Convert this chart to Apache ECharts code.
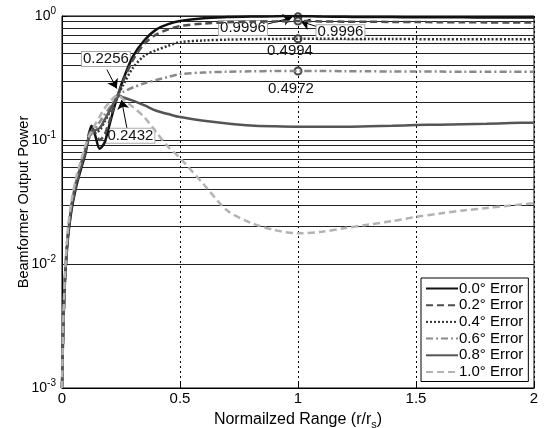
<!DOCTYPE html>
<html>
<head>
<meta charset="utf-8">
<script src="https://cdn.jsdelivr.net/npm/echarts@6/dist/echarts.min.js"></script>
<style>html,body{margin:0;padding:0;background:#fff}#c{width:545px;height:428px}</style>
</head>
<body>
<div id="c"></div>
<script>
// x positions (normalized range r/r_s)
const xRange = [0, 0.005, 0.013, 0.025, 0.04, 0.06, 0.08, 0.1, 0.115, 0.125, 0.14, 0.16, 0.18, 0.2, 0.22, 0.237, 0.26, 0.3, 0.35, 0.4, 0.45, 0.5, 0.6, 0.7, 0.8, 0.9, 1.0, 1.1, 1.2, 1.3, 1.4, 1.5, 1.6, 1.7, 1.8, 1.9, 2.0];
const seriesNames = ['0.0° Error', '0.2° Error', '0.4° Error', '0.6° Error', '0.8° Error', '1.0° Error'];
const err00 = [0.001, 0.0028, 0.0075, 0.016, 0.027, 0.042, 0.058, 0.079, 0.112, 0.13, 0.11, 0.085, 0.095, 0.13, 0.18, 0.23, 0.31, 0.47, 0.64, 0.78, 0.86, 0.91, 0.96, 0.98, 0.99, 0.995, 0.9996, 0.99, 0.985, 0.98, 0.98, 0.978, 0.976, 0.975, 0.974, 0.973, 0.972];
const err02 = [0.001, 0.0028, 0.0077, 0.0165, 0.028, 0.043, 0.06, 0.082, 0.115, 0.125, 0.115, 0.1, 0.11, 0.14, 0.185, 0.23, 0.3, 0.44, 0.6, 0.71, 0.78, 0.83, 0.87, 0.89, 0.9, 0.905, 0.91, 0.905, 0.9, 0.9, 0.895, 0.895, 0.89, 0.89, 0.888, 0.886, 0.885];
const err04 = [0.001, 0.0029, 0.008, 0.017, 0.029, 0.045, 0.062, 0.086, 0.105, 0.112, 0.115, 0.12, 0.14, 0.165, 0.2, 0.23, 0.28, 0.38, 0.48, 0.53, 0.575, 0.615, 0.635, 0.645, 0.65, 0.653, 0.655, 0.655, 0.654, 0.653, 0.652, 0.651, 0.65, 0.65, 0.649, 0.648, 0.648];
const err06 = [0.001, 0.003, 0.0083, 0.018, 0.03, 0.047, 0.064, 0.089, 0.105, 0.113, 0.123, 0.14, 0.16, 0.18, 0.205, 0.23, 0.245, 0.265, 0.287, 0.305, 0.322, 0.34, 0.35, 0.355, 0.358, 0.36, 0.36, 0.36, 0.359, 0.358, 0.357, 0.356, 0.356, 0.355, 0.355, 0.355, 0.355];
const err08 = [0.001, 0.0029, 0.008, 0.017, 0.029, 0.045, 0.062, 0.083, 0.105, 0.118, 0.12, 0.125, 0.145, 0.17, 0.2, 0.23, 0.22, 0.208, 0.19, 0.172, 0.162, 0.153, 0.143, 0.136, 0.131, 0.129, 0.128, 0.128, 0.128, 0.129, 0.13, 0.132, 0.133, 0.134, 0.135, 0.137, 0.138];
const err10 = [0.001, 0.0032, 0.0086, 0.019, 0.032, 0.05, 0.068, 0.091, 0.108, 0.117, 0.133, 0.155, 0.18, 0.2, 0.22, 0.23, 0.212, 0.185, 0.152, 0.115, 0.088, 0.0716, 0.044, 0.027, 0.0215, 0.0188, 0.0177, 0.0182, 0.0195, 0.0208, 0.0222, 0.024, 0.0255, 0.027, 0.0283, 0.0296, 0.031];
const xTicks = [0, 0.5, 1, 1.5, 2];
const yDecades = [0.001, 0.01, 0.1, 1];
// annotation texts / anchor points (data coordinates)
const annoTexts = ['0.2256', '0.2432', '0.9996', '0.9996', '0.4994', '0.4972'];
const annoTextAt = [[0.186, 0.45], [0.29, 0.108], [0.767, 0.8], [1.18, 0.74], [0.966, 0.522], [0.97, 0.257]];
const arrowFrom = [[0.19, 0.37], [0.275, 0.125], [0.86, 0.85], [1.08, 0.82]];
const arrowTo = [[0.232, 0.26], [0.252, 0.21], [0.975, 0.975], [1.012, 0.905]];
const circleAt = [[1, 0.985], [1, 0.91], [1, 0.655], [1, 0.36]];

const allValues = [err00, err02, err04, err06, err08, err10];
const colors = ['#111111', '#4d4d4d', '#333333', '#8a8a8a', '#555555', '#b3b3b3'];
const dashes = ['solid', [7, 4], [2, 2], [7, 3, 2, 3], 'solid', [7, 4]];

// minor horizontal grid lines at k*10^n
const gridVals = [];
for (let d = 0; d < yDecades.length - 1; d++) {
  for (let k = 2; k <= 9; k++) gridVals.push(+(k * yDecades[d]).toPrecision(3));
}

const FONT = 'Liberation Sans, Arial, sans-serif';
const chart = echarts.init(document.getElementById('c'));
const series = allValues.map((vals, i) => ({
  name: seriesNames[i],
  type: 'line',
  data: xRange.map((x, j) => [x, vals[j]]),
  symbol: 'none',
  smooth: 0.3,
  lineStyle: { color: colors[i], width: 2.5, type: dashes[i] },
  itemStyle: { color: colors[i] },
  z: 5 + i
}));

series.unshift({
  name: 'grid',
  type: 'line',
  data: [],
  silent: true,
  z: 1,
  markLine: {
    silent: true, symbol: 'none', animation: false,
    label: { show: false },
    lineStyle: { color: '#222', width: 1, type: 'solid' },
    data: gridVals.map(v => ({ yAxis: v }))
  }
});

series.push({
  name: 'anno',
  type: 'line',
  data: [],
  silent: true,
  z: 20,
  markLine: {
    silent: true, animation: false,
    symbol: ['none', 'arrow'], symbolSize: 9,
    label: { show: false },
    lineStyle: { color: '#000', width: 1, type: 'solid' },
    data: arrowFrom.map((p, i) => [{ coord: p }, { coord: arrowTo[i] }])
  },
  markPoint: {
    animation: false,
    data: annoTexts.map((t, i) => ({
      coord: annoTextAt[i], symbol: 'rect', symbolSize: 0,
      label: {
        show: true, position: 'inside', formatter: t, color: '#111',
        fontSize: 15, fontFamily: FONT, lineHeight: 14,
        backgroundColor: (i >= 4) ? 'transparent' : '#fff',
        borderColor: (i >= 4) ? 'transparent' : '#aaa', borderWidth: 1, padding: [0, 1]
      }
    })).concat(circleAt.map(p => ({
      coord: p, symbol: 'circle', symbolSize: 7,
      itemStyle: { color: '#fff', borderColor: '#444', borderWidth: 2 },
      label: { show: false }
    })))
  }
});

chart.setOption({
  animation: false,
  backgroundColor: '#fff',
  textStyle: { fontFamily: FONT },
  grid: { left: 62, right: 11, top: 16, bottom: 40, show: true, borderColor: '#000', borderWidth: 1, backgroundColor: 'transparent', outerBoundsMode: 'none', containLabel: false },
  legend: {
    data: seriesNames,
    orient: 'vertical', left: 421, top: 278,
    backgroundColor: '#fff', borderColor: '#000', borderWidth: 1,
    padding: [3, 5, 2, 4], itemGap: 1.7, itemWidth: 32, itemHeight: 13,
    itemStyle: { opacity: 0 },
    textStyle: { fontSize: 15, lineHeight: 13, color: '#000', padding: [0, 0, 0, -4] }
  },
  xAxis: {
    type: 'value', min: 0, max: 2, interval: 0.5,
    name: 'Normailzed Range (r/r{sub|s})', nameLocation: 'middle', nameGap: 21, nameMoveOverlap: false,
    nameTextStyle: { fontSize: 16, color: '#000', rich: { sub: { fontSize: 11, padding: [10, 0, 0, 0] } } },
    axisLine: { lineStyle: { color: '#000' } },
    axisTick: { inside: true, length: 5, lineStyle: { color: '#000' } },
    axisLabel: { color: '#000', fontSize: 15, margin: 3, formatter: v => String(v) },
    splitLine: { show: true, lineStyle: { color: '#000', type: [2, 3], width: 1 } }
  },
  yAxis: {
    type: 'log', logBase: 10, min: 0.001, max: 1,
    name: 'Beamformer Output Power', nameLocation: 'middle', nameGap: 31, nameRotate: 90, nameMoveOverlap: false,
    nameTextStyle: { fontSize: 14.5, color: '#000' },
    axisLine: { show: true, lineStyle: { color: '#000' } },
    axisTick: { inside: true, length: 5, lineStyle: { color: '#000' } },
    axisLabel: {
      color: '#000', margin: 6,
      formatter: v => '{b|10}{s|' + Math.round(Math.log10(v)) + '}',
      rich: { b: { fontSize: 14, color: '#000' }, s: { fontSize: 10, color: '#000', padding: [0, 0, 9, 0] } }
    },
    splitLine: { show: true, lineStyle: { color: '#222', width: 1, type: 'solid' } }
  },
  series: series
});
</script>
</body>
</html>
